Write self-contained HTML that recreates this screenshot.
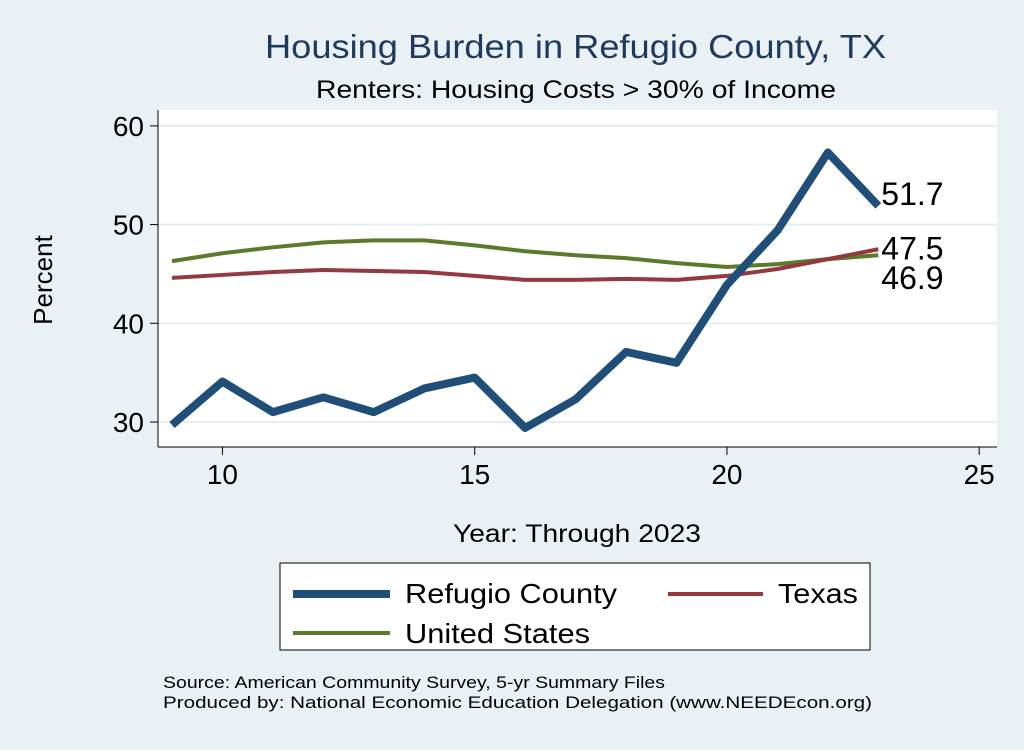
<!DOCTYPE html>
<html><head><meta charset="utf-8"><style>
body{margin:0;background:#eaf1f4;font-family:"Liberation Sans",sans-serif;}
svg text{font-family:"Liberation Sans",sans-serif;}
</style></head><body>
<svg width="1024" height="745">
<rect width="1024" height="745" fill="#eaf1f4"/>
<text x="265" y="58" font-size="33" fill="#1e3a5f" textLength="621" lengthAdjust="spacingAndGlyphs">Housing Burden in Refugio County, TX</text>
<text x="316" y="98" font-size="25" fill="#000" textLength="520" lengthAdjust="spacingAndGlyphs">Renters: Housing Costs &gt; 30% of Income</text>
<rect x="158" y="110" width="839" height="337" fill="#fff"/>
<g id="grid"></g><g id="axes"></g><g id="series"></g>
<text x="52" y="280" font-size="26" text-anchor="middle" transform="rotate(-90 52 280)">Percent</text>
<text x="453" y="542" font-size="25" textLength="248" lengthAdjust="spacingAndGlyphs">Year: Through 2023</text>
<g>
<rect x="280" y="563" width="590" height="87" fill="#fff" stroke="#000" stroke-width="1"/>
<line x1="293" y1="594" x2="390" y2="594" stroke="#1f4e79" stroke-width="8"/>
<text x="405" y="603" font-size="28" textLength="212" lengthAdjust="spacingAndGlyphs">Refugio County</text>
<line x1="668" y1="594" x2="763" y2="594" stroke="#94393e" stroke-width="4"/>
<text x="778" y="603" font-size="28" textLength="80" lengthAdjust="spacingAndGlyphs">Texas</text>
<line x1="293" y1="633" x2="390" y2="633" stroke="#5b7a2c" stroke-width="4"/>
<text x="405" y="643" font-size="28" textLength="185" lengthAdjust="spacingAndGlyphs">United States</text>
</g>
<text x="163" y="688" font-size="17" textLength="502" lengthAdjust="spacingAndGlyphs">Source: American Community Survey, 5-yr Summary Files</text>
<text x="163" y="708" font-size="17" textLength="709" lengthAdjust="spacingAndGlyphs">Produced by: National Economic Education Delegation (www.NEEDEcon.org)</text>
</svg>
<script>
const years=[9,10,11,12,13,14,15,16,17,18,19,20,21,22,23];
const refugio=[29.7,34.1,31.0,32.5,31.0,33.4,34.5,29.4,32.3,37.1,36.0,43.9,49.4,57.3,51.9];
const texas=[44.6,44.9,45.2,45.4,45.3,45.2,44.8,44.4,44.4,44.5,44.4,44.8,45.5,46.5,47.5];
const us=[46.3,47.1,47.7,48.2,48.4,48.4,47.9,47.3,46.9,46.6,46.1,45.7,46.0,46.5,46.9];
const xTicks=[10,15,20,25];
const yTicks=[30,40,50,60];
const endLabels=["51.7","47.5","46.9"];
const NS="http://www.w3.org/2000/svg";
const xs=v=>172+(v-9)*50.45;
const ys=v=>422-(v-30)*9.87;
function mk(t,a,p){const e=document.createElementNS(NS,t);for(const k in a)e.setAttribute(k,a[k]);p.appendChild(e);return e;}
const grid=document.getElementById('grid'),axes=document.getElementById('axes'),ser=document.getElementById('series');
yTicks.forEach(v=>{
 const g=mk('line',{x1:158,x2:997,y1:ys(v),y2:ys(v),stroke:'#e6ecef','stroke-width':2},grid);
 
 
 mk('line',{x1:150,x2:158,y1:ys(v),y2:ys(v),stroke:'#000'},axes);
 const t=mk('text',{x:144,y:ys(v)+10,'font-size':28,'text-anchor':'end'},axes);t.textContent=v;
 
 
});
xTicks.forEach(v=>{
 mk('line',{x1:xs(v),x2:xs(v),y1:447,y2:455,stroke:'#000'},axes);
 const t=mk('text',{x:xs(v),y:484,'font-size':28,'text-anchor':'middle'},axes);t.textContent=v;
 
 
});
mk('line',{x1:158,x2:158,y1:110,y2:447,stroke:'#000'},axes);
mk('line',{x1:158,x2:997,y1:447,y2:447,stroke:'#000'},axes);
function line(d,c,w,n){const p=mk('polyline',{points:years.map((y,i)=>xs(y)+','+ys(d[i])).join(' '),fill:'none',stroke:c,'stroke-width':w,'stroke-linejoin':'round'},ser);
 
 }
line(us,'#5b7a2c',4,'line-united-states');
line(texas,'#94393e',4,'line-texas');
line(refugio,'#1f4e79',8,'line-refugio-county');
const last=years.length-1;
const offs=[-1,10,34];
[refugio,texas,us].forEach((d,i)=>{
 const t=mk('text',{x:xs(years[last])+3,y:ys(d[last])+offs[i],'font-size':32},ser);t.textContent=endLabels[i];
 
 
});
</script>
</body></html>
